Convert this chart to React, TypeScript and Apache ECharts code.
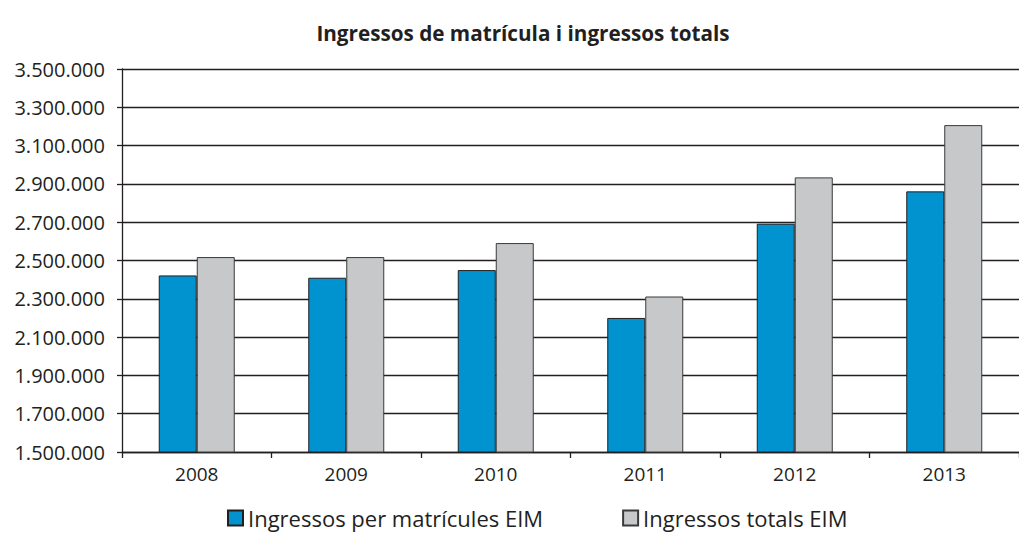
import React, { useEffect, useRef } from "react";
import * as echarts from "echarts";

const years = ["2008", "2009", "2010", "2011", "2012", "2013"];
const matricules = [2422000, 2410000, 2450000, 2200000, 2692000, 2861000];
const totals = [2518000, 2518000, 2591000, 2312000, 2934000, 3207000];
const seriesNames = ["Ingressos per matrícules EIM", "Ingressos totals EIM"];
const titleText = "Ingressos de matrícula i ingressos totals";

function fmt(v: number): string {
  return Math.round(v).toString().replace(/\B(?=(\d{3})+(?!\d))/g, ".");
}

export default function App() {
  const ref = useRef<HTMLDivElement>(null);
  useEffect(() => {
    if (!ref.current) return;
    const chart = echarts.init(ref.current, undefined, { renderer: "svg" });
    const font = "'Open Sans', sans-serif";
    chart.setOption({
      animation: false,
      backgroundColor: "#ffffff",
      textStyle: { fontFamily: font },
      title: {
        text: titleText,
        left: 518,
        textAlign: "center",
        top: 17,
        textStyle: { fontSize: 20.7, fontWeight: "bold", color: "#231f20", fontFamily: font },
      },
      legend: {
        top: 507,
        left: 227,
        itemWidth: 15,
        itemHeight: 15,
        itemGap: 79,
        icon: "rect",
        padding: 0,
        textStyle: { fontSize: 22, color: "#231f20", fontFamily: font, padding: [0, 0, 0, 0] },
        data: seriesNames,
      },
      grid: { left: 122, top: 69, height: 383, width: 906, containLabel: false },
      xAxis: {
        type: "category",
        data: years,
        axisLine: { lineStyle: { color: "#231f20", width: 1.3 } },
        axisTick: { show: true, length: 6, lineStyle: { color: "#231f20", width: 1.3 } },
        axisLabel: { fontSize: 19, color: "#231f20", margin: 12, fontFamily: font },
      },
      yAxis: {
        type: "value",
        min: 1500000,
        max: 3500000,
        interval: 200000,
        axisLine: { show: true, lineStyle: { color: "#231f20", width: 1.3 } },
        axisTick: { show: true, length: 5, lineStyle: { color: "#231f20", width: 1.3 } },
        splitLine: { show: true, lineStyle: { color: "#231f20", width: 1.3 } },
        axisLabel: { fontSize: 20, color: "#231f20", margin: 17, formatter: (v: number) => fmt(v), fontFamily: font },
      },
      series: [
        {
          name: seriesNames[0],
          type: "bar",
          data: matricules,
          barWidth: 38,
          barGap: "0%",
          itemStyle: { color: "#0093cf", borderColor: "#231f20", borderWidth: 1 },
        },
        {
          name: seriesNames[1],
          type: "bar",
          data: totals,
          barWidth: 38,
          barGap: "0%",
          itemStyle: { color: "#c7c8ca", borderColor: "#3a3a3a", borderWidth: 1 },
        },
      ],
    });
    return () => chart.dispose();
  }, []);
  return (
    <div
      ref={ref}
      style={{ position: "fixed", left: 0, top: 0, width: 1019, height: 536, overflow: "hidden" }}
    />
  );
}
